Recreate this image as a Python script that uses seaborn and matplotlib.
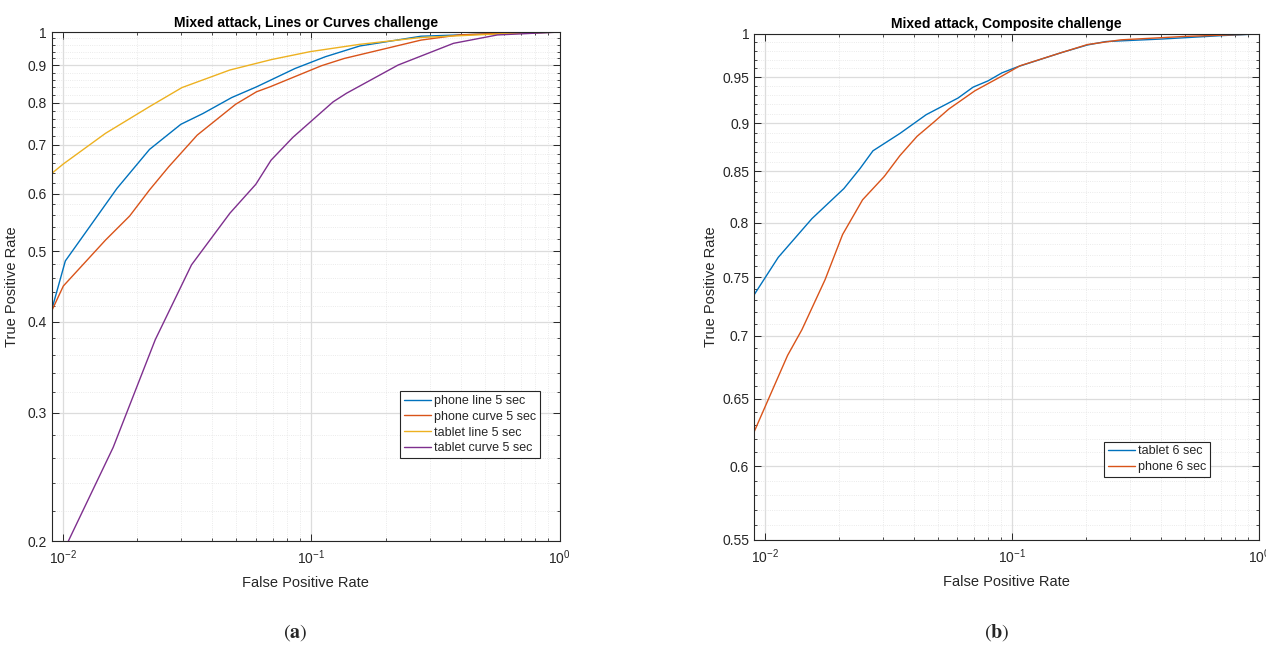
import numpy as np
import matplotlib
matplotlib.use("Agg")
import matplotlib.pyplot as plt
from matplotlib.ticker import FixedLocator, FuncFormatter, LogLocator, NullFormatter
import seaborn as sns

# -------------------------------------------------
# ROC data
# -------------------------------------------------

# (a) Mixed attack, Lines or Curves challenge
phone_line_fpr = [0.00906, 0.01025, 0.01654, 0.02236, 0.02989, 0.0367, 0.0479, 0.0603,
                  0.0860, 0.1141, 0.157, 0.277, 0.562, 1.0]
phone_line_tpr = [0.417, 0.485, 0.610, 0.690, 0.747, 0.773, 0.813, 0.841,
                  0.891, 0.925, 0.957, 0.987, 0.995, 1.0]

phone_curve_fpr = [0.00906, 0.01006, 0.01487, 0.0186, 0.02236, 0.0267, 0.0348, 0.0497,
                   0.0603, 0.0683, 0.110, 0.136, 0.194, 0.277, 0.394, 0.65, 1.0]
phone_curve_tpr = [0.415, 0.448, 0.518, 0.559, 0.607, 0.653, 0.722, 0.796,
                   0.828, 0.841, 0.899, 0.920, 0.947, 0.975, 0.991, 0.998, 1.0]

tablet_line_fpr = [0.00906, 0.01006, 0.01487, 0.02236, 0.0302, 0.0471, 0.0695, 0.0991,
                   0.157, 0.277, 0.562, 1.0]
tablet_line_tpr = [0.640, 0.659, 0.726, 0.790, 0.839, 0.887, 0.917, 0.940,
                   0.962, 0.983, 0.994, 1.0]

tablet_curve_fpr = [0.00906, 0.01054, 0.01597, 0.02358, 0.0330, 0.0471, 0.0599, 0.0690,
                    0.0845, 0.1226, 0.1387, 0.2239, 0.374, 0.562, 1.0]
tablet_curve_tpr = [0.180, 0.200, 0.269, 0.378, 0.479, 0.564, 0.618, 0.667,
                    0.717, 0.802, 0.824, 0.901, 0.965, 0.991, 1.0]

# (b) Mixed attack, Composite challenge
tablet6_fpr = [0.00901, 0.01134, 0.01553, 0.0209, 0.0243, 0.0274, 0.0352, 0.0450, 0.0605,
               0.0696, 0.0800, 0.0911, 0.1057, 0.158, 0.202, 0.240, 0.406, 0.709, 1.0]
tablet6_tpr = [0.734, 0.768, 0.804, 0.833, 0.853, 0.871, 0.889, 0.909, 0.927,
               0.939, 0.946, 0.955, 0.962, 0.978, 0.987, 0.991, 0.994, 0.998, 1.0]

phone6_fpr = [0.00901, 0.01237, 0.01413, 0.01754, 0.02065, 0.02487, 0.03044, 0.0352, 0.0413,
              0.0483, 0.0555, 0.0708, 0.0905, 0.1077, 0.158, 0.202, 0.276, 0.50, 1.0]
phone6_tpr = [0.624, 0.684, 0.705, 0.748, 0.789, 0.822, 0.845, 0.866, 0.886,
              0.901, 0.915, 0.935, 0.951, 0.963, 0.978, 0.9875, 0.993, 0.997, 1.0]

left_yticks = [0.2, 0.3, 0.4, 0.5, 0.6, 0.7, 0.8, 0.9, 1.0]
right_yticks = [0.55, 0.6, 0.65, 0.7, 0.75, 0.8, 0.85, 0.9, 0.95, 1.0]

# MATLAB default colours
BLUE, ORANGE, YELLOW, PURPLE = "#0072BD", "#D95319", "#EDB120", "#7E2F8E"

# -------------------------------------------------
# Figure setup
# -------------------------------------------------
sns.set_style("ticks")
plt.rcParams["font.family"] = ["Liberation Sans", "DejaVu Sans"]
plt.rcParams["mathtext.fontset"] = "custom"
plt.rcParams["mathtext.rm"] = "Liberation Sans"

fig = plt.figure(figsize=(12.66, 6.48), dpi=100)
ax1 = fig.add_axes([0.041, 0.165, 0.401, 0.7855])
ax2 = fig.add_axes([0.5956, 0.1667, 0.399, 0.781])

TXT = "#262626"


def style_axis(ax, yticks, ylim, yminor_step, title, ylabel_x):
    ax.set_xscale("log")
    ax.set_yscale("log")
    ax.set_xlim(0.00905, 1.0)
    ax.set_ylim(*ylim)

    ax.xaxis.set_major_locator(FixedLocator([0.01, 0.1, 1.0]))
    ax.xaxis.set_minor_locator(LogLocator(base=10, subs=np.arange(2, 10)))
    ax.xaxis.set_minor_formatter(NullFormatter())

    ax.yaxis.set_major_locator(FixedLocator(yticks))
    ax.yaxis.set_major_formatter(FuncFormatter(lambda v, p: "%g" % v))
    ax.yaxis.set_minor_locator(FixedLocator(np.arange(ylim[0], ylim[1], yminor_step)))
    ax.yaxis.set_minor_formatter(NullFormatter())

    ax.grid(which="major", color="#dcdcdc", linewidth=0.9, linestyle="-")
    ax.grid(which="minor", color="#e4e4e4", linewidth=0.6, linestyle=":")
    ax.set_axisbelow(True)

    ax.tick_params(which="both", direction="in", top=True, right=True,
                   colors=TXT, labelsize=10, labelcolor=TXT)
    ax.tick_params(which="major", length=5, width=0.7)
    ax.tick_params(which="minor", length=2.5, width=0.6)
    ax.tick_params(axis="x", which="major", pad=5.5)
    for sp in ax.spines.values():
        sp.set_color(TXT)
        sp.set_linewidth(0.8)

    ax.set_title(title, fontsize=10, fontweight="bold", color="black", pad=4)
    ax.set_xlabel("False Positive Rate", fontsize=10.5, color=TXT, labelpad=6)
    ax.set_ylabel("True Positive Rate", fontsize=10.5, color=TXT)
    ax.yaxis.set_label_coords(ylabel_x, 0.5)


# -------------------------------------------------
# (a) Lines or Curves challenge
# -------------------------------------------------
sns.lineplot(x=phone_line_fpr, y=phone_line_tpr, ax=ax1, color=BLUE, linewidth=1,
             label="phone line 5 sec", estimator=None)
sns.lineplot(x=phone_curve_fpr, y=phone_curve_tpr, ax=ax1, color=ORANGE, linewidth=1,
             label="phone curve 5 sec", estimator=None)
sns.lineplot(x=tablet_line_fpr, y=tablet_line_tpr, ax=ax1, color=YELLOW, linewidth=1,
             label="tablet line 5 sec", estimator=None)
sns.lineplot(x=tablet_curve_fpr, y=tablet_curve_tpr, ax=ax1, color=PURPLE, linewidth=1,
             label="tablet curve 5 sec", estimator=None)
style_axis(ax1, left_yticks, (0.2, 1.0), 0.02, "Mixed attack, Lines or Curves challenge", -0.065)

leg1 = ax1.legend(loc="lower right", bbox_to_anchor=(0.961, 0.163), fontsize=9,
                  frameon=True, fancybox=False, handlelength=2.2, handletextpad=0.2,
                  borderpad=0.3, labelspacing=0.3, borderaxespad=0)
leg1.get_frame().set_edgecolor(TXT)
leg1.get_frame().set_linewidth(0.8)
leg1.get_frame().set_alpha(1)

# -------------------------------------------------
# (b) Composite challenge
# -------------------------------------------------
sns.lineplot(x=tablet6_fpr, y=tablet6_tpr, ax=ax2, color=BLUE, linewidth=1,
             label="tablet 6 sec", estimator=None)
sns.lineplot(x=phone6_fpr, y=phone6_tpr, ax=ax2, color=ORANGE, linewidth=1,
             label="phone 6 sec", estimator=None)
style_axis(ax2, right_yticks, (0.55, 1.0), 0.01, "Mixed attack, Composite challenge", -0.071)

leg2 = ax2.legend(loc="lower right", bbox_to_anchor=(0.902, 0.1245), fontsize=9,
                  frameon=True, fancybox=False, handlelength=2.2, handletextpad=0.2,
                  borderpad=0.3, labelspacing=0.3, borderaxespad=0)
leg2.get_frame().set_edgecolor(TXT)
leg2.get_frame().set_linewidth(0.8)
leg2.get_frame().set_alpha(1)

# Panel captions
fig.text(0.233, 0.024, r"$(\mathbf{a})$", ha="center", va="center", fontsize=14.5,
         math_fontfamily="stix")
fig.text(0.787, 0.024, r"$(\mathbf{b})$", ha="center", va="center", fontsize=14.5,
         math_fontfamily="stix")

plt.savefig("out.png", dpi=100)
